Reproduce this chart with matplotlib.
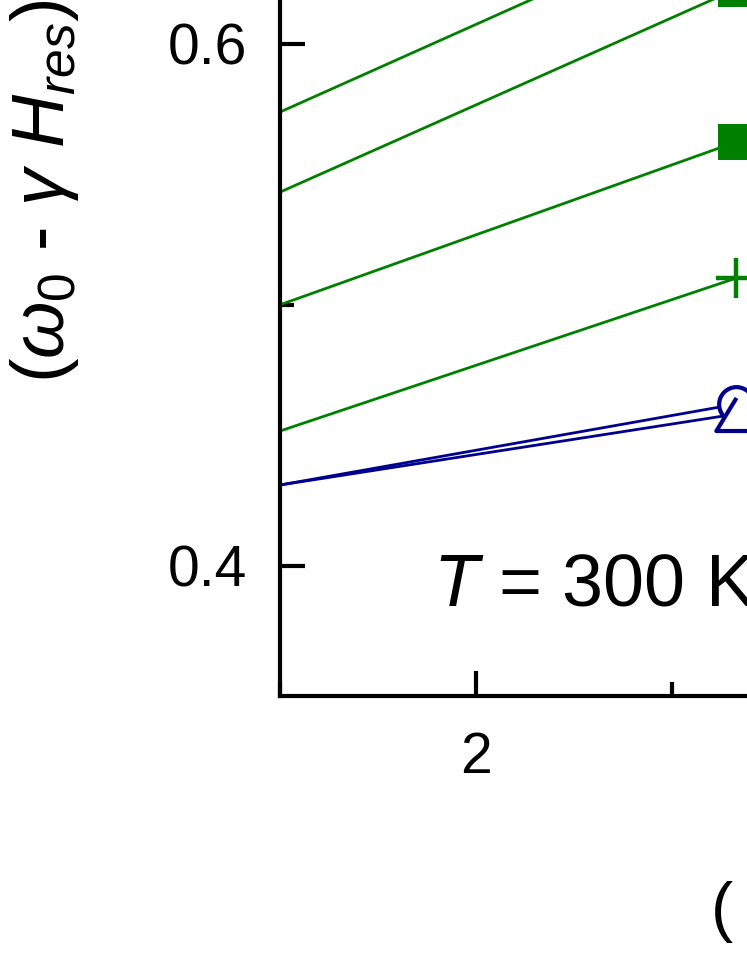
import matplotlib
matplotlib.use("Agg")
import matplotlib.pyplot as plt
from matplotlib.ticker import MultipleLocator, FormatStrFormatter

plt.rcParams['font.family'] = ['Liberation Sans', 'DejaVu Sans']
plt.rcParams['mathtext.fontset'] = 'custom'
plt.rcParams['mathtext.rm'] = 'Liberation Sans'
plt.rcParams['mathtext.it'] = 'Liberation Sans:italic'
plt.rcParams['mathtext.bf'] = 'Liberation Sans:bold'

# ---- data ----
x_pts = [1.5, 2.663]
g1 = [0.5739, 0.6521]
g2 = [0.5432, 0.6210]
g3 = [0.5000, 0.5624]
g4 = [0.4516, 0.5102]
b_circle = [0.4309, 0.4619]
b_triangle = [0.4309, 0.4581]

xlim = (1.5, 3.5)
ylim = (0.35, 0.70)
yticks_major = 0.2
yticks_minor = 0.1
xticks_major = 1.0
xticks_minor = 0.5

green = '#008000'
blue = '#00008c'

W, H = 747, 967
fig = plt.figure(figsize=(W / 100, H / 100), dpi=100)
ax = fig.add_axes([280 / W, 271 / H, 784 / W, 912.8 / H])

tri = [(0, 0.82), (-1, -0.82), (1, -0.82)]

ax.plot(x_pts, g1, color=green, lw=2.0, marker='s', markersize=26.5,
        markevery=[1], markeredgewidth=0)
ax.plot(x_pts, g2, color=green, lw=2.0, marker='s', markersize=26.5,
        markevery=[1], markeredgewidth=0)
ax.plot(x_pts, g3, color=green, lw=2.0, marker='s', markersize=26.5,
        markevery=[1], markeredgewidth=0)
ax.plot(x_pts, g4, color=green, lw=2.0, marker='+', markersize=29,
        markevery=[1], markeredgewidth=3.2)
ax.plot(x_pts, b_circle, color=blue, lw=2.0, marker='o', markersize=25,
        markevery=[1], markeredgewidth=3.0, markerfacecolor='white')
ax.plot(x_pts, b_triangle, color=blue, lw=2.0, marker=tri, markersize=29,
        markevery=[1], markeredgewidth=3.0, markerfacecolor='white')

ax.set_xlim(*xlim)
ax.set_ylim(*ylim)
ax.xaxis.set_major_locator(MultipleLocator(xticks_major))
ax.xaxis.set_minor_locator(MultipleLocator(xticks_minor))
ax.yaxis.set_major_locator(MultipleLocator(yticks_major))
ax.yaxis.set_minor_locator(MultipleLocator(yticks_minor))
ax.xaxis.set_major_formatter(FormatStrFormatter('%d'))
ax.yaxis.set_major_formatter(FormatStrFormatter('%.1f'))

for s in ax.spines.values():
    s.set_linewidth(3.0)
ax.tick_params(which='both', direction='in', width=3.0, top=False, right=False)
ax.tick_params(which='major', length=18)
ax.tick_params(which='minor', length=10)
ax.tick_params(axis='y', which='major', labelsize=41, pad=24)
ax.tick_params(axis='x', which='major', labelsize=41, pad=25)

# annotation
fig.text(433 / W, (H - 605) / H, r'$T$ = 300 K', fontsize=53,
         ha='left', va='baseline')

# y label (rotated), anchored at its lower end
fig.text(45 / W, (H - 383) / H,
         r'($\omega_0$ - $\gamma$ $H_{res}$)', fontsize=53,
         rotation=90, ha='center', va='bottom')

# x label start
fig.text(710 / W, (H - 929) / H, r'( $\omega$/2$\pi$) (GHz)', fontsize=48,
         ha='left', va='baseline')

fig.savefig('out.png', dpi=100)
